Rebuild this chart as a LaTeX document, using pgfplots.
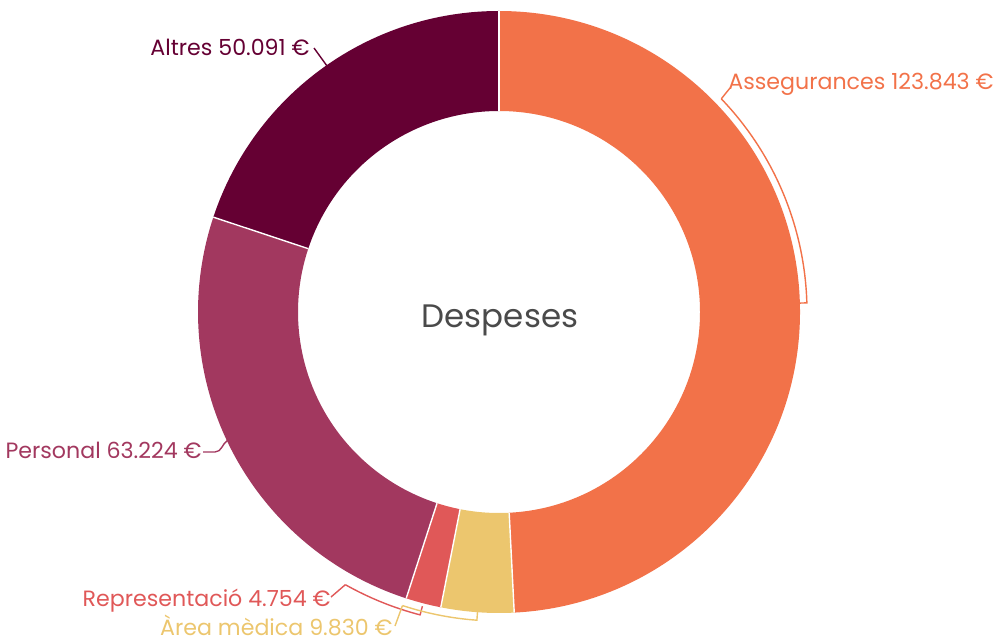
\documentclass[border=0pt]{standalone}
\usepackage{pgfplots}
\pgfplotsset{compat=1.18}
\usepackage{pgfplotstable}
\usepackage{fontspec}
\setmainfont{Poppins}
\definecolor{cAss}{HTML}{F27249}
\definecolor{cArea}{HTML}{ECC66E}
\definecolor{cRep}{HTML}{E05858}
\definecolor{cPer}{HTML}{A2385F}
\definecolor{cAlt}{HTML}{650033}
\definecolor{cTxt}{HTML}{4A4A4A}
\pgfplotstableread{
label value
Assegurances 123843
Area 9830
Representacio 4754
Personal 63224
Altres 50091
}\despeses
\def\cx{9.98}
\def\cy{6.60}
\def\Ro{6.02}
\def\Ri{4.02}
\newcommand\slice[3]{\fill[#3] ({\cx+\Ro*cos(#1)},{\cy+\Ro*sin(#1)}) arc[start angle=#1,end angle=#2,radius=\Ro] -- ({\cx+\Ri*cos(#2)},{\cy+\Ri*sin(#2)}) arc[start angle=#2,end angle=#1,radius=\Ri] -- cycle;}
\newcommand\sep[1]{\draw[white,line width=0.8pt] ({\cx+\Ri*cos(#1)},{\cy+\Ri*sin(#1)}) -- ({\cx+\Ro*cos(#1)},{\cy+\Ro*sin(#1)});}
% bracket: color, radius, a1, a2, tick radius
\newcommand\bracket[5]{\draw[#1,line width=0.8pt] ({\cx+#2*cos(#3)},{\cy+#2*sin(#3)}) arc[start angle=#3,end angle=#4,radius=#2] -- ({\cx+#5*cos(#4)},{\cy+#5*sin(#4)});}
\begin{document}
\pgfplotstablegetelem{0}{value}\of\despeses \edef\vA{\pgfplotsretval}%
\pgfplotstablegetelem{1}{value}\of\despeses \edef\vB{\pgfplotsretval}%
\pgfplotstablegetelem{2}{value}\of\despeses \edef\vC{\pgfplotsretval}%
\pgfplotstablegetelem{3}{value}\of\despeses \edef\vD{\pgfplotsretval}%
\pgfplotstablegetelem{4}{value}\of\despeses \edef\vE{\pgfplotsretval}%
\edef\tot{\fpeval{\vA+\vB+\vC+\vD+\vE}}%
\edef\aA{90}%
\edef\aB{\fpeval{round(\aA-360*\vA/\tot,4)}}%
\edef\aC{\fpeval{round(\aB-360*\vB/\tot,4)}}%
\edef\aD{\fpeval{round(\aC-360*\vC/\tot,4)}}%
\edef\aE{\fpeval{round(\aD-360*\vD/\tot,4)}}%
\edef\aF{\fpeval{round(\aE-360*\vE/\tot,4)}}%
\begin{tikzpicture}
\begin{axis}[x=1cm,y=1cm,xmin=0,xmax=19.9,ymin=0,ymax=12.84,hide axis,clip=false,scale only axis]
\path (0,0) rectangle (19.9,12.84);
\slice{\aA}{\aB}{cAss}
\slice{\aB}{\aC}{cArea}
\slice{\aC}{\aD}{cRep}
\slice{\aD}{\aE}{cPer}
\slice{\aE}{\aF}{cAlt}
\sep{\aA}\sep{\aB}\sep{\aC}\sep{\aD}\sep{\aE}
\node[text=cTxt,font=\fontsize{18.5}{22}\selectfont] at (10.0,6.44) {Despeses};
% labels
\node[anchor=west,inner sep=0pt,text=cAss,font=\fontsize{12.6}{15}\selectfont] at (14.56,11.16) {Assegurances 123.843 €};
\node[anchor=east,inner sep=0pt,text=cAlt,font=\fontsize{12.6}{15}\selectfont] at (6.20,11.90) {Altres 50.091 €};
\node[anchor=east,inner sep=0pt,text=cPer,font=\fontsize{12.6}{15}\selectfont] at (4.04,3.84) {Personal 63.224 €};
\node[anchor=east,inner sep=0pt,text=cRep,font=\fontsize{12.6}{15}\selectfont] at (6.62,0.82) {Representació 4.754 €};
\node[anchor=base east,inner sep=0pt,text=cArea,font=\fontsize{12.6}{15}\selectfont] at (7.86,0.13) {Àrea mèdica 9.830 €};
% leaders
\draw[cAlt,line width=0.8pt] (6.28,11.88) -- (6.54,11.52);
\draw[cPer,line width=0.8pt] (4.06,3.80) -- (4.30,3.80) to[out=0,in=210] (4.56,4.04);
\draw[cAss,line width=0.8pt] (14.60,11.08) -- ({\cx+6.16*cos(43.8)},{\cy+6.16*sin(43.8)});
\bracket{cAss}{6.16}{43.8}{1.7}{6.02}
\draw[cRep,line width=0.8pt] (6.62,0.90) -- ({\cx+6.26*cos(-119.4)},{\cy+6.26*sin(-119.4)});
\bracket{cRep}{6.26}{-119.4}{-104.6}{6.08}
\draw[cArea,line width=0.8pt] (7.90,0.32) -- ({\cx+6.18*cos(-108.2)},{\cy+6.18*sin(-108.2)});
\bracket{cArea}{6.18}{-108.2}{-94.1}{6.02}
\end{axis}
\end{tikzpicture}
\end{document}
